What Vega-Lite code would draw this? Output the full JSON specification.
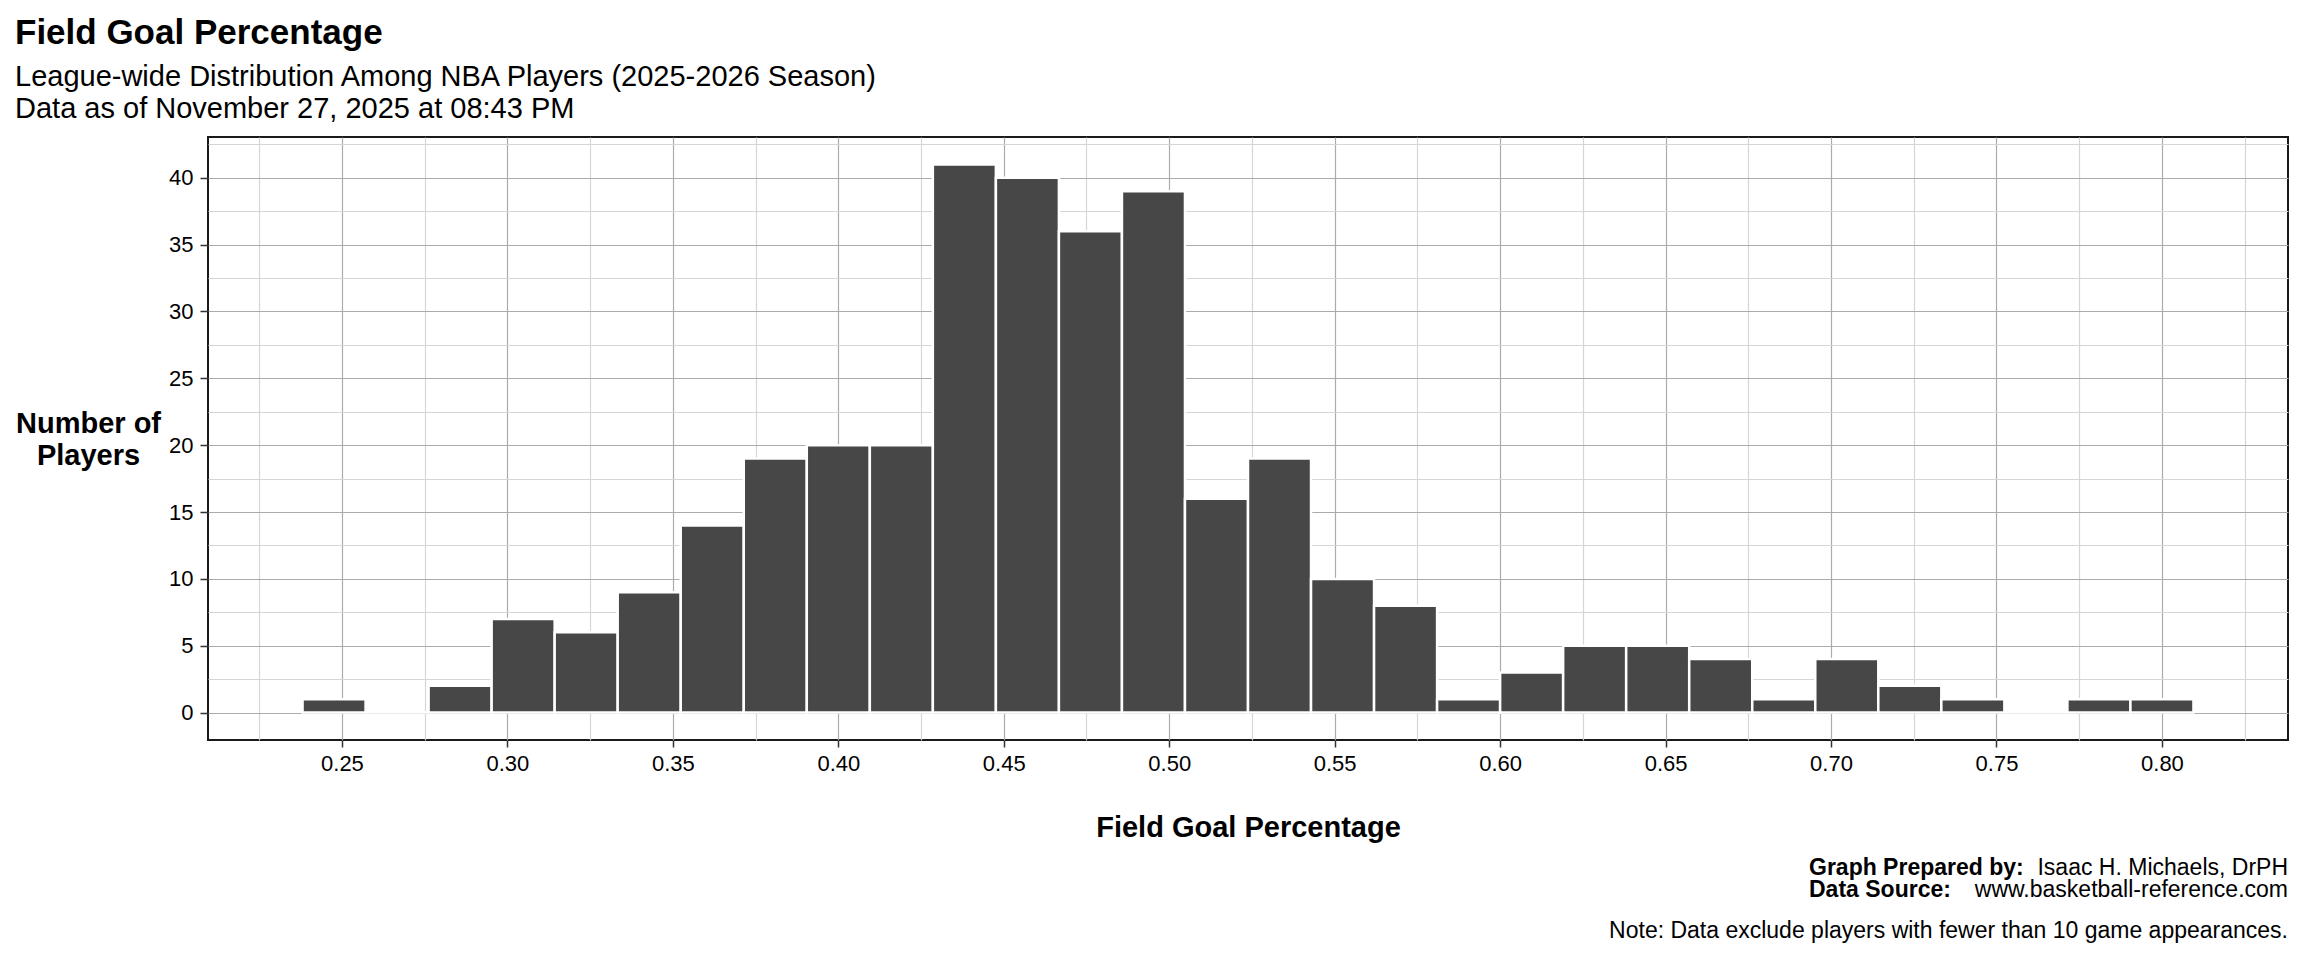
{
  "$schema": "https://vega.github.io/schema/vega-lite/v6.json",
  "width": 2080,
  "height": 603,
  "autosize": {"type": "none"},
  "padding": {"left": 208, "top": 137, "right": 16, "bottom": 220},
  "background": "white",
  "config": {
    "font": "Liberation Sans",
    "view": {"stroke": "#1a1a1a", "strokeWidth": 2}
  },
  "title": {
    "text": "Field Goal Percentage",
    "subtitle": ["League-wide Distribution Among NBA Players (2025-2026 Season)", "Data as of November 27, 2025 at 08:43 PM"],
    "anchor": "start",
    "frame": "group",
    "dx": -193,
    "offset": 13,
    "fontSize": 35,
    "fontWeight": "bold",
    "color": "black",
    "subtitleFontSize": 29,
    "subtitleColor": "black",
    "subtitleLineHeight": 32.5,
    "subtitlePadding": 12
  },
  "data": {
    "values": [
      {"bin_start": 0.238095, "bin_end": 0.257143, "count": 1},
      {"bin_start": 0.257143, "bin_end": 0.276190, "count": 0},
      {"bin_start": 0.276190, "bin_end": 0.295238, "count": 2},
      {"bin_start": 0.295238, "bin_end": 0.314286, "count": 7},
      {"bin_start": 0.314286, "bin_end": 0.333333, "count": 6},
      {"bin_start": 0.333333, "bin_end": 0.352381, "count": 9},
      {"bin_start": 0.352381, "bin_end": 0.371429, "count": 14},
      {"bin_start": 0.371429, "bin_end": 0.390476, "count": 19},
      {"bin_start": 0.390476, "bin_end": 0.409524, "count": 20},
      {"bin_start": 0.409524, "bin_end": 0.428571, "count": 20},
      {"bin_start": 0.428571, "bin_end": 0.447619, "count": 41},
      {"bin_start": 0.447619, "bin_end": 0.466667, "count": 40},
      {"bin_start": 0.466667, "bin_end": 0.485714, "count": 36},
      {"bin_start": 0.485714, "bin_end": 0.504762, "count": 39},
      {"bin_start": 0.504762, "bin_end": 0.523810, "count": 16},
      {"bin_start": 0.523810, "bin_end": 0.542857, "count": 19},
      {"bin_start": 0.542857, "bin_end": 0.561905, "count": 10},
      {"bin_start": 0.561905, "bin_end": 0.580952, "count": 8},
      {"bin_start": 0.580952, "bin_end": 0.600000, "count": 1},
      {"bin_start": 0.600000, "bin_end": 0.619048, "count": 3},
      {"bin_start": 0.619048, "bin_end": 0.638095, "count": 5},
      {"bin_start": 0.638095, "bin_end": 0.657143, "count": 5},
      {"bin_start": 0.657143, "bin_end": 0.676190, "count": 4},
      {"bin_start": 0.676190, "bin_end": 0.695238, "count": 1},
      {"bin_start": 0.695238, "bin_end": 0.714286, "count": 4},
      {"bin_start": 0.714286, "bin_end": 0.733333, "count": 2},
      {"bin_start": 0.733333, "bin_end": 0.752381, "count": 1},
      {"bin_start": 0.752381, "bin_end": 0.771429, "count": 0},
      {"bin_start": 0.771429, "bin_end": 0.790476, "count": 1},
      {"bin_start": 0.790476, "bin_end": 0.809524, "count": 1}
    ]
  },
  "layer": [
    {
      "mark": {"type": "bar", "opacity": 0},
      "encoding": {
        "x": {
          "field": "bin_start", "type": "quantitative",
          "scale": {"domain": [0.209524, 0.838095], "nice": false, "zero": false},
          "axis": {
            "orient": "top", "values": [0.225, 0.275, 0.325, 0.375, 0.425, 0.475, 0.525, 0.575, 0.625, 0.675, 0.725, 0.775, 0.825],
            "labels": false, "ticks": false, "domain": false, "title": null,
            "grid": true, "gridColor": "#d6d6d6", "gridWidth": 1.2
          }
        },
        "x2": {"field": "bin_end"},
        "y": {
          "field": "count", "type": "quantitative",
          "scale": {"domain": [-2.05, 43.05], "nice": false, "zero": false},
          "axis": {
            "orient": "right", "values": [2.5, 7.5, 12.5, 17.5, 22.5, 27.5, 32.5, 37.5, 42.5],
            "labels": false, "ticks": false, "domain": false, "title": null,
            "grid": true, "gridColor": "#d6d6d6", "gridWidth": 1.2
          }
        },
        "y2": {"datum": 0}
      }
    },
    {
      "mark": {"type": "bar", "color": "#474747", "stroke": "white", "strokeWidth": 2.5},
      "encoding": {
        "x": {
          "field": "bin_start", "type": "quantitative",
          "scale": {"domain": [0.209524, 0.838095], "nice": false, "zero": false},
          "axis": {
            "orient": "bottom", "values": [0.25, 0.3, 0.35, 0.4, 0.45, 0.5, 0.55, 0.6, 0.65, 0.7, 0.75, 0.8],
            "format": ".2f", "domain": false,
            "grid": true, "gridColor": "#ababab", "gridWidth": 1.2,
            "ticks": true, "tickSize": 7, "tickColor": "#333333", "tickWidth": 1.5,
            "labelFontSize": 22, "labelColor": "black", "labelPadding": 6,
            "title": "Field Goal Percentage", "titleFontSize": 29, "titleFontWeight": "bold",
            "titleColor": "black", "titleBaseline": "alphabetic", "titleY": 96
          }
        },
        "x2": {"field": "bin_end"},
        "y": {
          "field": "count", "type": "quantitative",
          "scale": {"domain": [-2.05, 43.05], "nice": false, "zero": false},
          "axis": {
            "orient": "left", "values": [0, 5, 10, 15, 20, 25, 30, 35, 40],
            "domain": false,
            "grid": true, "gridColor": "#ababab", "gridWidth": 1.2,
            "ticks": true, "tickSize": 8, "tickColor": "#333333", "tickWidth": 1.5,
            "labelFontSize": 22, "labelColor": "black", "labelPadding": 7,
            "title": ["Number of", "Players"], "titleFontSize": 29, "titleFontWeight": "bold",
            "titleColor": "black", "titleAngle": 0, "titleAlign": "center", "titleBaseline": "middle",
            "titleLineHeight": 32, "titleX": -120, "titleY": 286
          }
        },
        "y2": {"datum": 0}
      }
    },
    {
      "data": {"values": [{"label": "Graph Prepared by:"}]},
      "mark": {"type": "text", "align": "left", "baseline": "alphabetic", "fontSize": 23, "fontWeight": "bold", "color": "black"},
      "encoding": {"text": {"field": "label"}, "x": {"value": 1601}, "y": {"value": 738}}
    },
    {
      "data": {"values": [{"label": "Isaac H. Michaels, DrPH"}]},
      "mark": {"type": "text", "align": "right", "baseline": "alphabetic", "fontSize": 23, "color": "black"},
      "encoding": {"text": {"field": "label"}, "x": {"value": 2080}, "y": {"value": 738}}
    },
    {
      "data": {"values": [{"label": "Data Source:"}]},
      "mark": {"type": "text", "align": "left", "baseline": "alphabetic", "fontSize": 23, "fontWeight": "bold", "color": "black"},
      "encoding": {"text": {"field": "label"}, "x": {"value": 1601}, "y": {"value": 760}}
    },
    {
      "data": {"values": [{"label": "www.basketball-reference.com"}]},
      "mark": {"type": "text", "align": "right", "baseline": "alphabetic", "fontSize": 23, "color": "black"},
      "encoding": {"text": {"field": "label"}, "x": {"value": 2080}, "y": {"value": 760}}
    },
    {
      "data": {"values": [{"label": "Note: Data exclude players with fewer than 10 game appearances."}]},
      "mark": {"type": "text", "align": "right", "baseline": "alphabetic", "fontSize": 23, "color": "black"},
      "encoding": {"text": {"field": "label"}, "x": {"value": 2080}, "y": {"value": 801}}
    }
  ],
  "resolve": {"axis": {"x": "independent", "y": "independent"}}
}
